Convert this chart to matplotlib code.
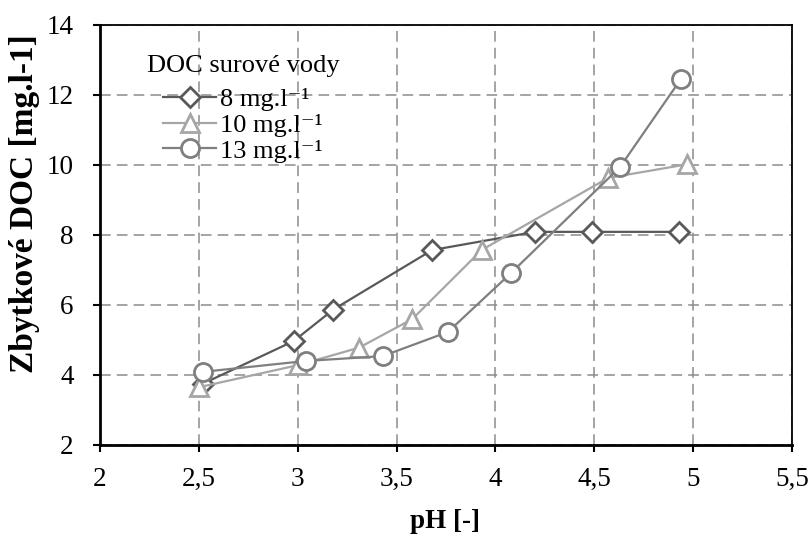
import matplotlib
matplotlib.use('Agg')
import matplotlib.pyplot as plt
from matplotlib.ticker import FuncFormatter

plt.rcParams['font.family'] = ['Liberation Serif', 'DejaVu Serif']

# DOC 8 mg/l
ph_8 = [2.52, 2.98, 3.18, 3.68, 4.20, 4.49, 4.93]
doc_8 = [3.75, 4.97, 5.87, 7.57, 8.09, 8.09, 8.09]
# DOC 10 mg/l
ph_10 = [2.50, 3.00, 3.31, 3.58, 3.93, 4.57, 4.97]
doc_10 = [3.65, 4.28, 4.78, 5.60, 7.57, 9.63, 10.02]
# DOC 13 mg/l
ph_13 = [2.52, 3.04, 3.43, 3.76, 4.08, 4.63, 4.94]
doc_13 = [4.09, 4.40, 4.54, 5.23, 6.92, 9.94, 12.47]

labels = ['8 mg.l⁻¹', '10 mg.l⁻¹', '13 mg.l⁻¹']

fig = plt.figure(figsize=(8.11, 5.37), dpi=100)
ax = fig.add_axes([100/811, 1-445/537, 692/811, 420/537])

ax.plot(ph_8, doc_8, color='#595959', lw=1.6, marker='D', ms=10, mfc='white',
        mec='#595959', mew=2, label=labels[0], zorder=3)
ax.plot(ph_10, doc_10, color='#a6a6a6', lw=1.6, marker='^', ms=13, mfc='white',
        mec='#a6a6a6', mew=2, label=labels[1], zorder=3)
ax.plot(ph_13, doc_13, color='#7f7f7f', lw=1.6, marker='o', ms=13, mfc='white',
        mec='#7f7f7f', mew=2, label=labels[2], zorder=4)

ax.set_xlim(2, 5.5)
ax.set_ylim(2, 14)
ax.set_xticks([2, 2.5, 3, 3.5, 4, 4.5, 5, 5.5])
ax.set_yticks([2, 4, 6, 8, 10, 12, 14])
ax.xaxis.set_major_formatter(FuncFormatter(lambda v, p: ('%g' % v).replace('.', ',')))
ax.grid(True, color='#8c8c8c', ls=(0, (7, 4)), lw=1.1)
ax.set_axisbelow(True)
ax.tick_params(direction='out', length=5, width=1.5, labelsize=19.5)
ax.tick_params(axis='y', pad=14)
ax.tick_params(axis='x', pad=11)

for s in ['left', 'bottom']:
    ax.spines[s].set_linewidth(2)
for s in ['top', 'right']:
    ax.spines[s].set_linewidth(1.3)

fig.text(25/811, 1-204/537, 'Zbytkové DOC [mg.l-1]', rotation=90, ha='center',
         va='center', fontsize=24, fontweight='bold')
fig.text(445/811, 1-522/537, 'pH [-]', ha='center', va='center',
         fontsize=19.5, fontweight='bold')

leg = ax.legend(title='DOC surové vody', loc='upper left', bbox_to_anchor=(0.06, 0.94),
                frameon=False, fontsize=19, title_fontsize=19, handlelength=2.0,
                handletextpad=0.15, labelspacing=0.08, borderpad=0.2,
                borderaxespad=0)
leg._legend_box.sep = 7.5  # extra gap under the title

fig.savefig('out.png', dpi=100)
